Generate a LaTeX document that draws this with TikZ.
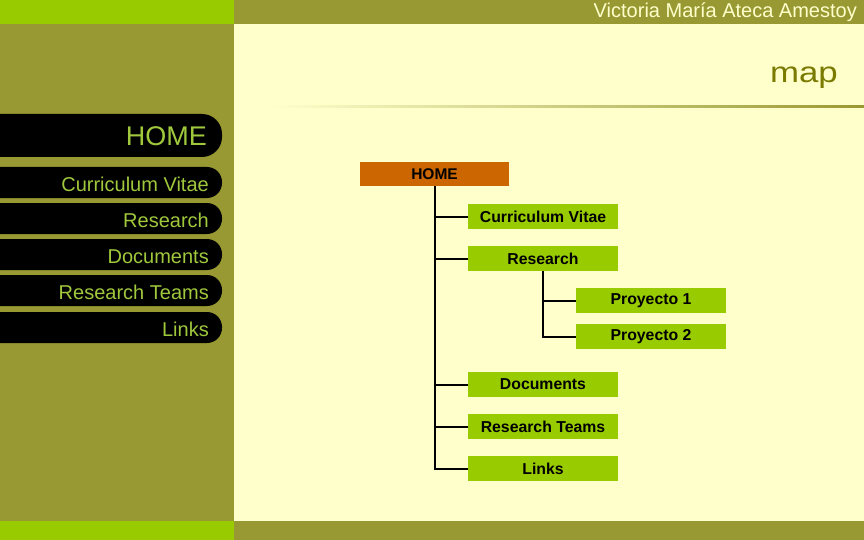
\documentclass[tikz,border=0pt]{standalone}
\usepackage{fontspec}
\setmainfont{Liberation Sans}
\definecolor{brightgreen}{HTML}{99CC00}
\definecolor{olive}{HTML}{999933}
\definecolor{cream}{HTML}{FFFFCC}
\definecolor{homeorange}{HTML}{CC6600}
\definecolor{menutext}{HTML}{A0C83C}
\definecolor{maptext}{HTML}{7A7A00}
\tikzset{
  tab/.style={fill=black},
  menuitem/.style={anchor=base east, inner sep=0pt, text=menutext, font=\fontsize{20}{24}\selectfont},
  treebox/.style={fill=brightgreen, minimum width=150pt, minimum height=25pt, inner sep=0pt, font=\bfseries\fontsize{15.8}{18}\selectfont},
  rootbox/.style={fill=homeorange, minimum width=149pt, minimum height=24pt, inner sep=0pt, font=\bfseries\fontsize{15.5}{18}\selectfont},
  link/.style={draw=black, line width=2pt}
}
\begin{document}
\begin{tikzpicture}[x=1pt,y=-1pt]
\useasboundingbox (0,0) rectangle (864,540);
\clip (0,0) rectangle (864,540);
% backgrounds
\fill[cream] (234,24) rectangle (864,521);
\fill[olive] (0,24) rectangle (234,521);
\fill[brightgreen] (0,0) rectangle (234,24);
\fill[olive] (234,0) rectangle (864,24);
\fill[brightgreen] (0,521) rectangle (234,540);
\fill[olive] (234,521) rectangle (864,540);
% header texts
\node[anchor=base east, inner sep=0pt, text=cream, font=\fontsize{20}{24}\selectfont] (author) at (857,18) {Victoria María Ateca Amestoy};
\node[anchor=base east, inner sep=0pt, text=maptext, font=\fontsize{29}{34}\selectfont, xscale=1.2] (maptitle) at (838,83) {map};
\shade[left color=cream, right color=olive] (270,105.5) rectangle (864,107.5);
% left menu tabs
\fill[tab, rounded corners=20pt] (-30,114) rectangle (222,157);
\fill[tab, rounded corners=15pt] (-30,167) rectangle (222,198);
\fill[tab, rounded corners=15pt] (-30,203) rectangle (222,234);
\fill[tab, rounded corners=15pt] (-30,239) rectangle (222,270);
\fill[tab, rounded corners=15pt] (-30,275) rectangle (222,306);
\fill[tab, rounded corners=15pt] (-30,312) rectangle (222,343);
\node[menuitem, font=\fontsize{27}{32}\selectfont] (mhome) at (207,146) {HOME};
\node[menuitem] (mcv) at (209,191) {Curriculum Vitae};
\node[menuitem] (mres) at (209,227) {Research};
\node[menuitem] (mdoc) at (209,263) {Documents};
\node[menuitem] (mteams) at (209,299) {Research Teams};
\node[menuitem] (mlinks) at (209,336) {Links};
% tree
\node[rootbox] (home) at (434.5,174) {HOME};
\node[treebox] (cv) at (543,216.5) {Curriculum Vitae};
\node[treebox] (res) at (543,258.5) {Research};
\node[treebox] (p1) at (651,300.5) {Proyecto 1};
\node[treebox] (p2) at (651,336.5) {Proyecto 2};
\node[treebox] (doc) at (543,384.5) {Documents};
\node[treebox] (teams) at (543,426.5) {Research Teams};
\node[treebox] (links) at (543,468.5) {Links};
\draw[link] (home.south) |- (cv.west);
\draw[link] (home.south) |- (res.west);
\draw[link] (home.south) |- (doc.west);
\draw[link] (home.south) |- (teams.west);
\draw[link] (home.south) |- (links.west);
\draw[link] (res.south) |- (p1.west);
\draw[link] (res.south) |- (p2.west);
\end{tikzpicture}
\end{document}
